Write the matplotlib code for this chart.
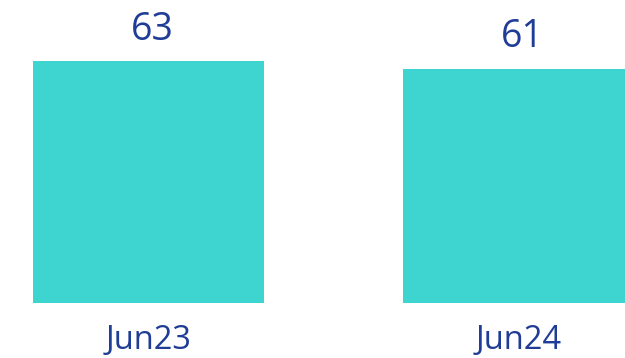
import matplotlib.pyplot as plt

periods = ['Jun23', 'Jun24']
values = [63, 61]

bar_color = '#3ED4CF'
text_color = '#1F3C96'

fig = plt.figure(figsize=(6.25, 3.58), dpi=100)
ax = fig.add_axes([0, 0, 1, 1])

x = list(range(len(periods)))
bars = ax.bar(x, values, width=0.624, color=bar_color)

for xi, v in zip(x, values):
    ax.annotate(f'{v}', (xi, v), xytext=(3, 9), textcoords='offset points',
                ha='center', va='bottom', fontsize=27, color=text_color,
                family='Open Sans')
    ax.text(xi, -9.7, periods[xi], ha='center', va='center', fontsize=23.5,
            color=text_color, family='Open Sans')

ax.set_xlim(-0.401, 1.288)
ax.set_ylim(-14.3, 78.9)
ax.axis('off')

plt.savefig('out.png', dpi=100)
plt.close(fig)
